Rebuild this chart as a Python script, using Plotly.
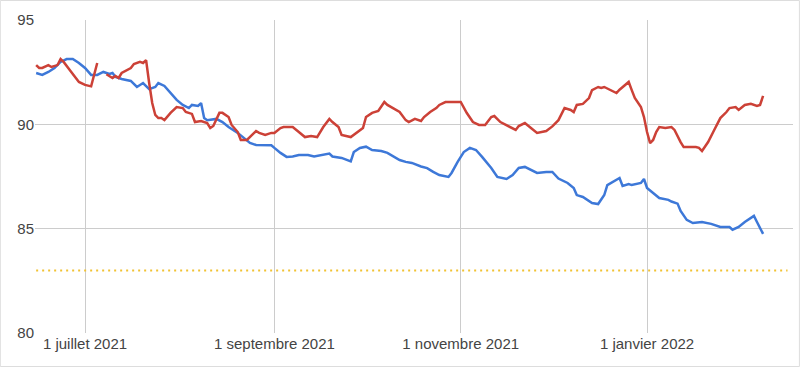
import plotly.graph_objects as go

# ---- data ----
blue_dates = [
    "2021-06-15", "2021-06-17", "2021-06-19", "2021-06-21", "2021-06-23", "2021-06-25", "2021-06-27", "2021-06-29",
    "2021-07-01", "2021-07-03", "2021-07-05", "2021-07-07", "2021-07-09", "2021-07-10", "2021-07-11", "2021-07-13",
    "2021-07-16", "2021-07-18", "2021-07-20", "2021-07-22", "2021-07-24", "2021-07-25", "2021-07-27", "2021-07-29",
    "2021-07-31", "2021-08-02", "2021-08-04", "2021-08-05", "2021-08-07", "2021-08-08", "2021-08-09", "2021-08-10",
    "2021-08-13", "2021-08-15", "2021-08-17", "2021-08-20", "2021-08-22", "2021-08-24", "2021-08-26", "2021-08-31",
    "2021-09-01", "2021-09-03", "2021-09-05", "2021-09-07", "2021-09-09", "2021-09-12", "2021-09-14", "2021-09-16",
    "2021-09-19", "2021-09-20", "2021-09-23", "2021-09-26", "2021-09-27", "2021-09-29", "2021-10-01", "2021-10-03",
    "2021-10-06", "2021-10-08", "2021-10-10", "2021-10-12", "2021-10-14", "2021-10-16", "2021-10-19", "2021-10-21",
    "2021-10-23", "2021-10-25", "2021-10-28", "2021-10-29", "2021-10-31", "2021-11-02", "2021-11-04", "2021-11-06",
    "2021-11-08", "2021-11-11", "2021-11-13", "2021-11-16", "2021-11-18", "2021-11-20", "2021-11-22", "2021-11-24",
    "2021-11-26", "2021-11-29", "2021-12-01", "2021-12-03", "2021-12-06", "2021-12-08", "2021-12-09", "2021-12-11",
    "2021-12-13", "2021-12-14", "2021-12-16", "2021-12-18", "2021-12-19", "2021-12-21", "2021-12-23", "2021-12-24",
    "2021-12-26", "2021-12-27", "2021-12-29", "2021-12-30", "2021-12-31", "2022-01-01", "2022-01-03", "2022-01-05",
    "2022-01-08", "2022-01-09", "2022-01-11", "2022-01-12", "2022-01-14", "2022-01-16", "2022-01-19", "2022-01-22",
    "2022-01-25", "2022-01-28", "2022-01-29", "2022-01-31", "2022-02-02", "2022-02-05", "2022-02-06", "2022-02-08",
]
blue_values = [
    92.46, 92.37, 92.51, 92.70, 92.99, 93.13, 93.13, 92.94,
    92.70, 92.37, 92.37, 92.51, 92.41, 92.46, 92.27, 92.17,
    92.08, 91.79, 91.98, 91.69, 91.79, 91.98, 91.84, 91.50,
    91.17, 90.93, 90.78, 90.93, 90.88, 91.02, 90.30, 90.20,
    90.26, 90.11, 89.87, 89.59, 89.35, 89.11, 89.01, 89.00,
    88.87, 88.63, 88.44, 88.46, 88.53, 88.53, 88.46, 88.53,
    88.60, 88.46, 88.39, 88.22, 88.67, 88.87, 88.93, 88.77,
    88.72, 88.63, 88.44, 88.29, 88.20, 88.15, 87.98, 87.90,
    87.72, 87.57, 87.48, 87.67, 88.20, 88.67, 88.87, 88.77,
    88.44, 87.91, 87.48, 87.38, 87.57, 87.91, 87.96, 87.81,
    87.67, 87.72, 87.72, 87.40, 87.19, 86.95, 86.61, 86.52,
    86.33, 86.23, 86.18, 86.61, 87.09, 87.24, 87.43, 87.05,
    87.14, 87.09, 87.14, 87.19, 87.38, 86.95, 86.71, 86.47,
    86.38, 86.30, 86.20, 85.85, 85.42, 85.27, 85.32, 85.23,
    85.08, 85.08, 84.95, 85.08, 85.32, 85.61, 85.32, 84.75,
]

red_dates = [
    "2021-06-15", "2021-06-16", "2021-06-17", "2021-06-19", "2021-06-20", "2021-06-22", "2021-06-23", "2021-06-24",
    "2021-06-26", "2021-06-28", "2021-06-29", "2021-07-01", "2021-07-02", "2021-07-03", "2021-07-05", "2021-07-06",
    "2021-07-08", "2021-07-10", "2021-07-11", "2021-07-12", "2021-07-13", "2021-07-15", "2021-07-16", "2021-07-17",
    "2021-07-19", "2021-07-20", "2021-07-21", "2021-07-22", "2021-07-23", "2021-07-24", "2021-07-25", "2021-07-26",
    "2021-07-27", "2021-07-29", "2021-07-31", "2021-08-02", "2021-08-03", "2021-08-05", "2021-08-06", "2021-08-08",
    "2021-08-10", "2021-08-11", "2021-08-12", "2021-08-14", "2021-08-15", "2021-08-17", "2021-08-18", "2021-08-20",
    "2021-08-21", "2021-08-23", "2021-08-24", "2021-08-26", "2021-08-27", "2021-08-29", "2021-08-31", "2021-09-01",
    "2021-09-03", "2021-09-04", "2021-09-07", "2021-09-08", "2021-09-09", "2021-09-11", "2021-09-13", "2021-09-15",
    "2021-09-17", "2021-09-19", "2021-09-20", "2021-09-22", "2021-09-23", "2021-09-26", "2021-09-28", "2021-09-30",
    "2021-10-01", "2021-10-03", "2021-10-05", "2021-10-07", "2021-10-08", "2021-10-10", "2021-10-12", "2021-10-14",
    "2021-10-15", "2021-10-17", "2021-10-19", "2021-10-20", "2021-10-22", "2021-10-24", "2021-10-25", "2021-10-27",
    "2021-11-01", "2021-11-03", "2021-11-05", "2021-11-07", "2021-11-09", "2021-11-11", "2021-11-12", "2021-11-14",
    "2021-11-17", "2021-11-19", "2021-11-20", "2021-11-22", "2021-11-24", "2021-11-26", "2021-11-29", "2021-12-01",
    "2021-12-03", "2021-12-05", "2021-12-07", "2021-12-08", "2021-12-09", "2021-12-11", "2021-12-13", "2021-12-14",
    "2021-12-16", "2021-12-17", "2021-12-18", "2021-12-20", "2021-12-21", "2021-12-22", "2021-12-23", "2021-12-25",
    "2021-12-26", "2021-12-27", "2021-12-28", "2021-12-30", "2021-12-31", "2022-01-01", "2022-01-02", "2022-01-03",
    "2022-01-04", "2022-01-05", "2022-01-07", "2022-01-09", "2022-01-10", "2022-01-12", "2022-01-13", "2022-01-17",
    "2022-01-18", "2022-01-19", "2022-01-21", "2022-01-23", "2022-01-25", "2022-01-27", "2022-01-28", "2022-01-30",
    "2022-01-31", "2022-02-02", "2022-02-04", "2022-02-06", "2022-02-07", "2022-02-08",
]
red_values = [
    92.84, 92.70, 92.70, 92.84, 92.75, 92.84, 93.13, 92.99,
    92.60, 92.22, 92.03, 91.89, 91.84, 91.82, 92.94, None,
    92.40, 92.22, 92.32, 92.22, 92.46, 92.60, 92.70, 92.89,
    92.99, 92.94, 93.08, 91.98, 91.02, 90.45, 90.30, 90.30,
    90.20, 90.55, 90.83, 90.78, 90.59, 90.50, 90.11, 90.16,
    90.06, 89.82, 89.92, 90.55, 90.55, 90.35, 89.97, 89.63,
    89.25, 89.25, 89.39, 89.68, 89.59, 89.49, 89.59, 89.59,
    89.82, 89.87, 89.87, 89.73, 89.63, 89.39, 89.44, 89.39,
    89.87, 90.26, 90.11, 89.87, 89.49, 89.39, 89.59, 89.82,
    90.35, 90.55, 90.64, 91.07, 90.93, 90.78, 90.59, 90.20,
    90.11, 90.26, 90.16, 90.35, 90.59, 90.78, 90.93, 91.07,
    91.07, 90.54, 90.11, 89.97, 89.97, 90.35, 90.40, 90.11,
    89.87, 89.73, 89.92, 90.06, 89.82, 89.59, 89.68, 89.90,
    90.20, 90.78, 90.69, 90.59, 90.93, 90.98, 91.26, 91.64,
    91.79, 91.74, 91.79, 91.64, 91.60, 91.50, 91.66, 91.89,
    92.03, 91.64, 91.26, 90.83, 90.35, 89.63, 89.10, 89.25,
    89.63, 89.87, 89.82, 89.87, 89.73, 89.15, 88.91, 88.91,
    88.87, 88.72, 89.15, 89.73, 90.30, 90.59, 90.78, 90.83,
    90.69, 90.93, 90.98, 90.88, 90.93, 91.36,
]

target_dates = ["2021-06-15", "2022-02-16"]
target_values = [83, 83]

tick_dates = ["2021-07-01", "2021-09-01", "2021-11-01", "2022-01-01"]
tick_labels = ["1 juillet 2021", "1 septembre 2021", "1 novembre 2021", "1 janvier 2022"]
y_ticks = [80, 85, 90, 95]

# ---- figure ----
fig = go.Figure()
fig.add_trace(go.Scatter(x=target_dates, y=target_values, mode="lines",
                         line=dict(color="#f1c232", width=2, dash="2px,4px"), hoverinfo="skip"))
fig.add_trace(go.Scatter(x=blue_dates, y=blue_values, mode="lines",
                         line=dict(color="#3d78d8", width=2.5)))
fig.add_trace(go.Scatter(x=red_dates, y=red_values, mode="lines", connectgaps=False,
                         line=dict(color="#cc4137", width=2.5)))

fig.update_layout(
    width=800, height=367,
    margin=dict(l=35, r=7, t=20, b=34),
    paper_bgcolor="white", plot_bgcolor="white",
    showlegend=False,
    font=dict(family="Liberation Sans, Arial, sans-serif", size=15, color="#444444"),
    shapes=[dict(type="rect", xref="paper", yref="paper",
                 x0=-35 / 758 + 0.0004, x1=1 + 7 / 758 - 0.0008,
                 y0=-34 / 313 + 0.0015, y1=1 + 20 / 313 - 0.0015,
                 line=dict(color="#dddddd", width=1), fillcolor="rgba(0,0,0,0)", layer="below")],
)
fig.update_xaxes(
    range=["2021-06-14 15:00", "2022-02-17 19:00"],
    tickmode="array", tickvals=tick_dates, ticktext=tick_labels,
    showgrid=True, gridcolor="#cccccc", gridwidth=1,
    showline=False, zeroline=False, ticks="",
)
fig.update_yaxes(
    range=[80, 95], tickmode="array", tickvals=y_ticks,
    showgrid=True, gridcolor="#cccccc", gridwidth=1,
    showline=False, zeroline=False, ticks="",
)

fig.write_html("out.html")
